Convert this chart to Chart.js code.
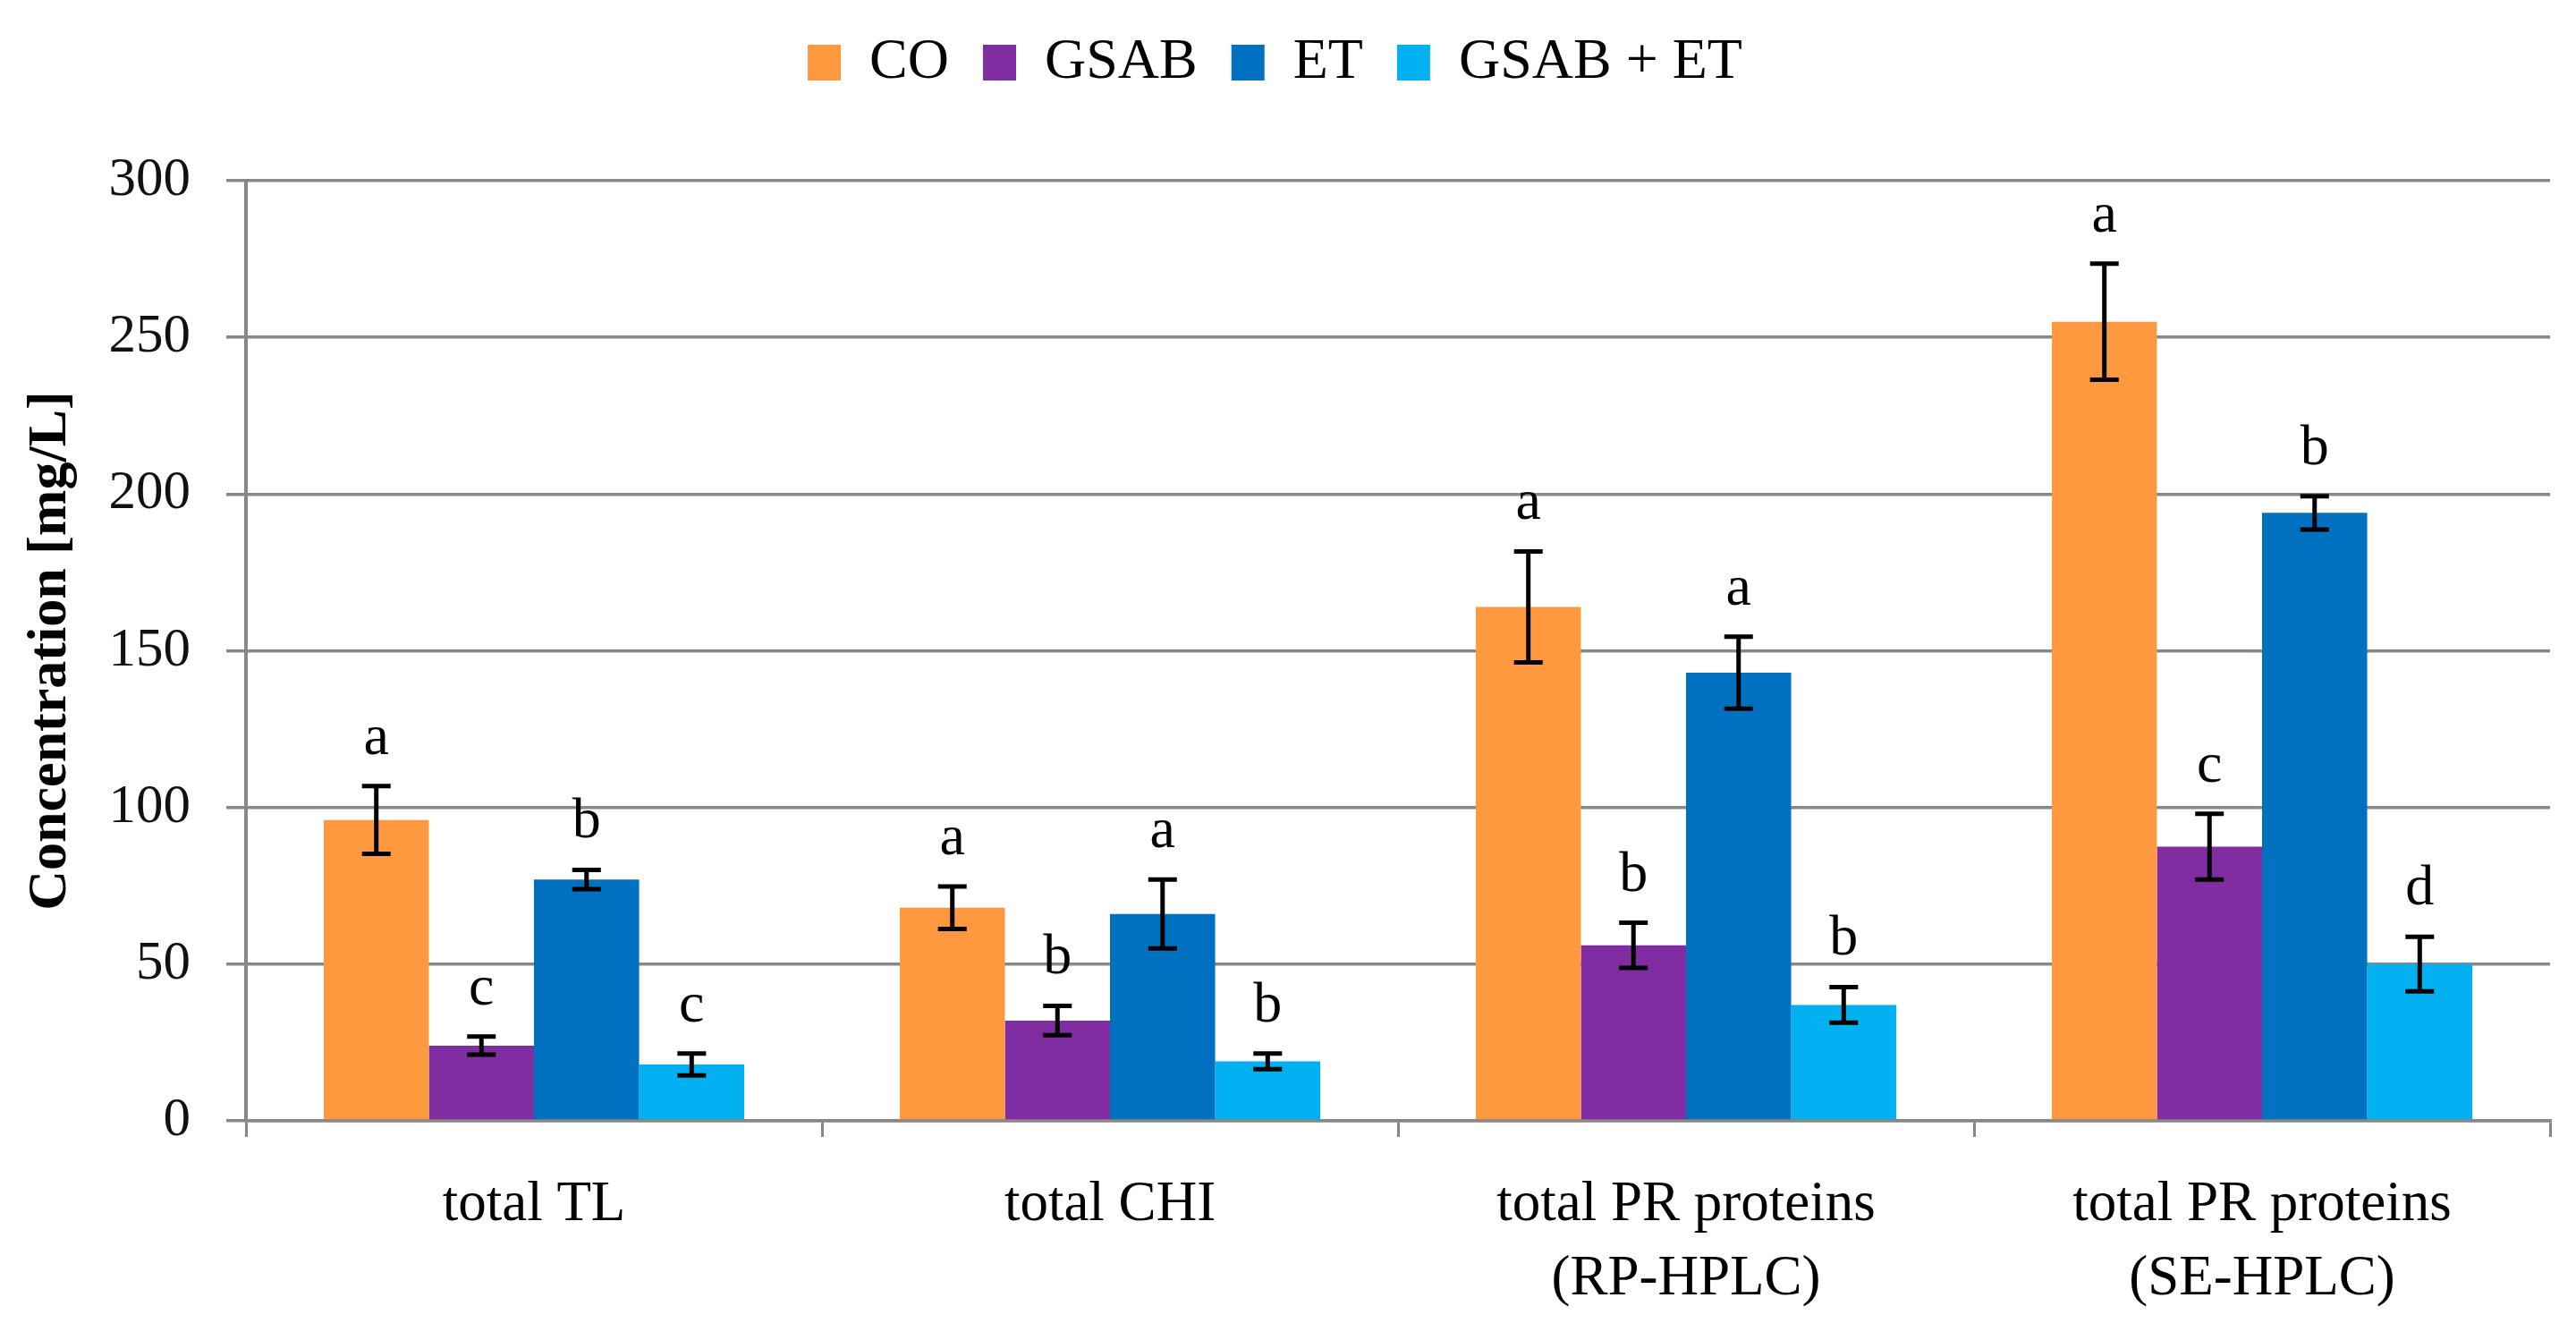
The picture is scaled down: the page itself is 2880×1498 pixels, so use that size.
<!DOCTYPE html>
<html>
<head>
<meta charset="utf-8">
<script src="https://cdn.jsdelivr.net/npm/chart.js@4.4.0/dist/chart.umd.min.js"></script>
<style>
  html, body { margin: 0; padding: 0; background: #fff; }
  #wrap { width: 2880px; height: 1498px; }
</style>
</head>
<body>
<div id="wrap"><canvas id="chart"></canvas></div>
<script>
// values (mg/L)
const categories = [['total TL'], ['total CHI'], ['total PR proteins', '(RP-HPLC)'], ['total PR proteins', '(SE-HPLC)']];
const seriesNames = ['CO', 'GSAB', 'ET', 'GSAB + ET'];
const seriesColors = ['#FF9940', '#7F2DA0', '#0070C0', '#00B0F0'];

const coValues = [96, 68, 164, 255];
const gsabValues = [24, 32, 56, 87.5];
const etValues = [77, 66, 143, 194];
const gsabEtValues = [18, 19, 37, 50];

const coErrors = [10.8, 6.8, 17.7, 18.5];
const gsabErrors = [2.9, 4.7, 7.2, 10.5];
const etErrors = [3.1, 11, 11.5, 5.3];
const gsabEtErrors = [3.5, 2.5, 5.7, 8.7];

const coLetters = ['a', 'a', 'a', 'a'];
const gsabLetters = ['c', 'b', 'b', 'c'];
const etLetters = ['b', 'a', 'a', 'b'];
const gsabEtLetters = ['c', 'b', 'b', 'd'];

const yTicks = [0, 50, 100, 150, 200, 250, 300];

const values = [coValues, gsabValues, etValues, gsabEtValues];
const errors = [coErrors, gsabErrors, etErrors, gsabEtErrors];
const letters = [coLetters, gsabLetters, etLetters, gsabEtLetters];

Chart.defaults.font.family = '"Liberation Serif", serif';
Chart.defaults.color = '#111';

const gridGrey = '#888888';

// push the plot area down below the legend
const legendSpace = {
  id: 'legendSpace',
  beforeInit(chart) {
    const fit = chart.legend.fit;
    chart.legend.fit = function () {
      fit.bind(chart.legend)();
      this.height = 202;
    };
  }
};

// error bars + significance letters
const errorBars = {
  id: 'errorBars',
  afterDatasetsDraw(chart) {
    const ctx = chart.ctx;
    const y = chart.scales.y;
    ctx.save();
    ctx.strokeStyle = '#000';
    ctx.fillStyle = '#000';
    ctx.lineWidth = 5;
    ctx.font = '64px "Liberation Serif"';
    ctx.textAlign = 'center';
    ctx.textBaseline = 'alphabetic';
    chart.data.datasets.forEach((ds, i) => {
      chart.getDatasetMeta(i).data.forEach((bar, j) => {
        const v = ds.data[j];
        const e = ds.errors[j];
        const top = y.getPixelForValue(v + e);
        const bottom = y.getPixelForValue(v - e);
        ctx.beginPath();
        ctx.moveTo(bar.x, top); ctx.lineTo(bar.x, bottom);
        ctx.moveTo(bar.x - 16, top); ctx.lineTo(bar.x + 16, top);
        ctx.moveTo(bar.x - 16, bottom); ctx.lineTo(bar.x + 16, bottom);
        ctx.stroke();
        ctx.fillText(ds.letters[j], bar.x, top - 36);
      });
    });
    ctx.restore();
  }
};

const ctx = document.getElementById('chart').getContext('2d');
new Chart(ctx, {
  type: 'bar',
  data: {
    labels: categories,
    datasets: seriesNames.map((name, i) => ({
      label: name,
      data: values[i],
      errors: errors[i],
      letters: letters[i],
      backgroundColor: seriesColors[i],
      borderWidth: 0,
      categoryPercentage: 0.73,
      barPercentage: 1.0
    }))
  },
  options: {
    responsive: true,
    maintainAspectRatio: false,
    animation: false,
    layout: { padding: { top: 0, right: 29, bottom: 0, left: 0 } },
    plugins: {
      tooltip: { enabled: false },
      legend: {
        position: 'top',
        labels: {
          color: '#000',
          font: { size: 64, lineHeight: 1 },
          boxWidth: 37,
          boxHeight: 40,
          padding: 38
        }
      }
    },
    scales: {
      x: {
        offset: true,
        afterFit(scale) { scale.height = 245; },
        grid: {
          offset: true,
          drawOnChartArea: false,
          drawTicks: true,
          tickLength: 18,
          color: gridGrey,
          lineWidth: 3
        },
        border: { color: gridGrey, width: 3.5 },
        ticks: {
          color: '#000',
          font: { size: 63, lineHeight: 1.32 },
          padding: 35,
          maxRotation: 0
        }
      },
      y: {
        min: yTicks[0],
        max: yTicks[yTicks.length - 1],
        afterFit(scale) { scale.width = 275; },
        grid: {
          color: gridGrey,
          lineWidth: 3.5,
          tickLength: 22
        },
        border: { color: gridGrey, width: 4 },
        ticks: {
          stepSize: yTicks[1] - yTicks[0],
          color: '#111',
          font: { size: 61 },
          padding: 40
        },
        title: {
          display: true,
          text: 'Concentration [mg/L]',
          color: '#000',
          font: { size: 62, weight: 'bold' },
          padding: { top: 20, bottom: 0 }
        }
      }
    }
  },
  plugins: [legendSpace, errorBars]
});
</script>
</body>
</html>
